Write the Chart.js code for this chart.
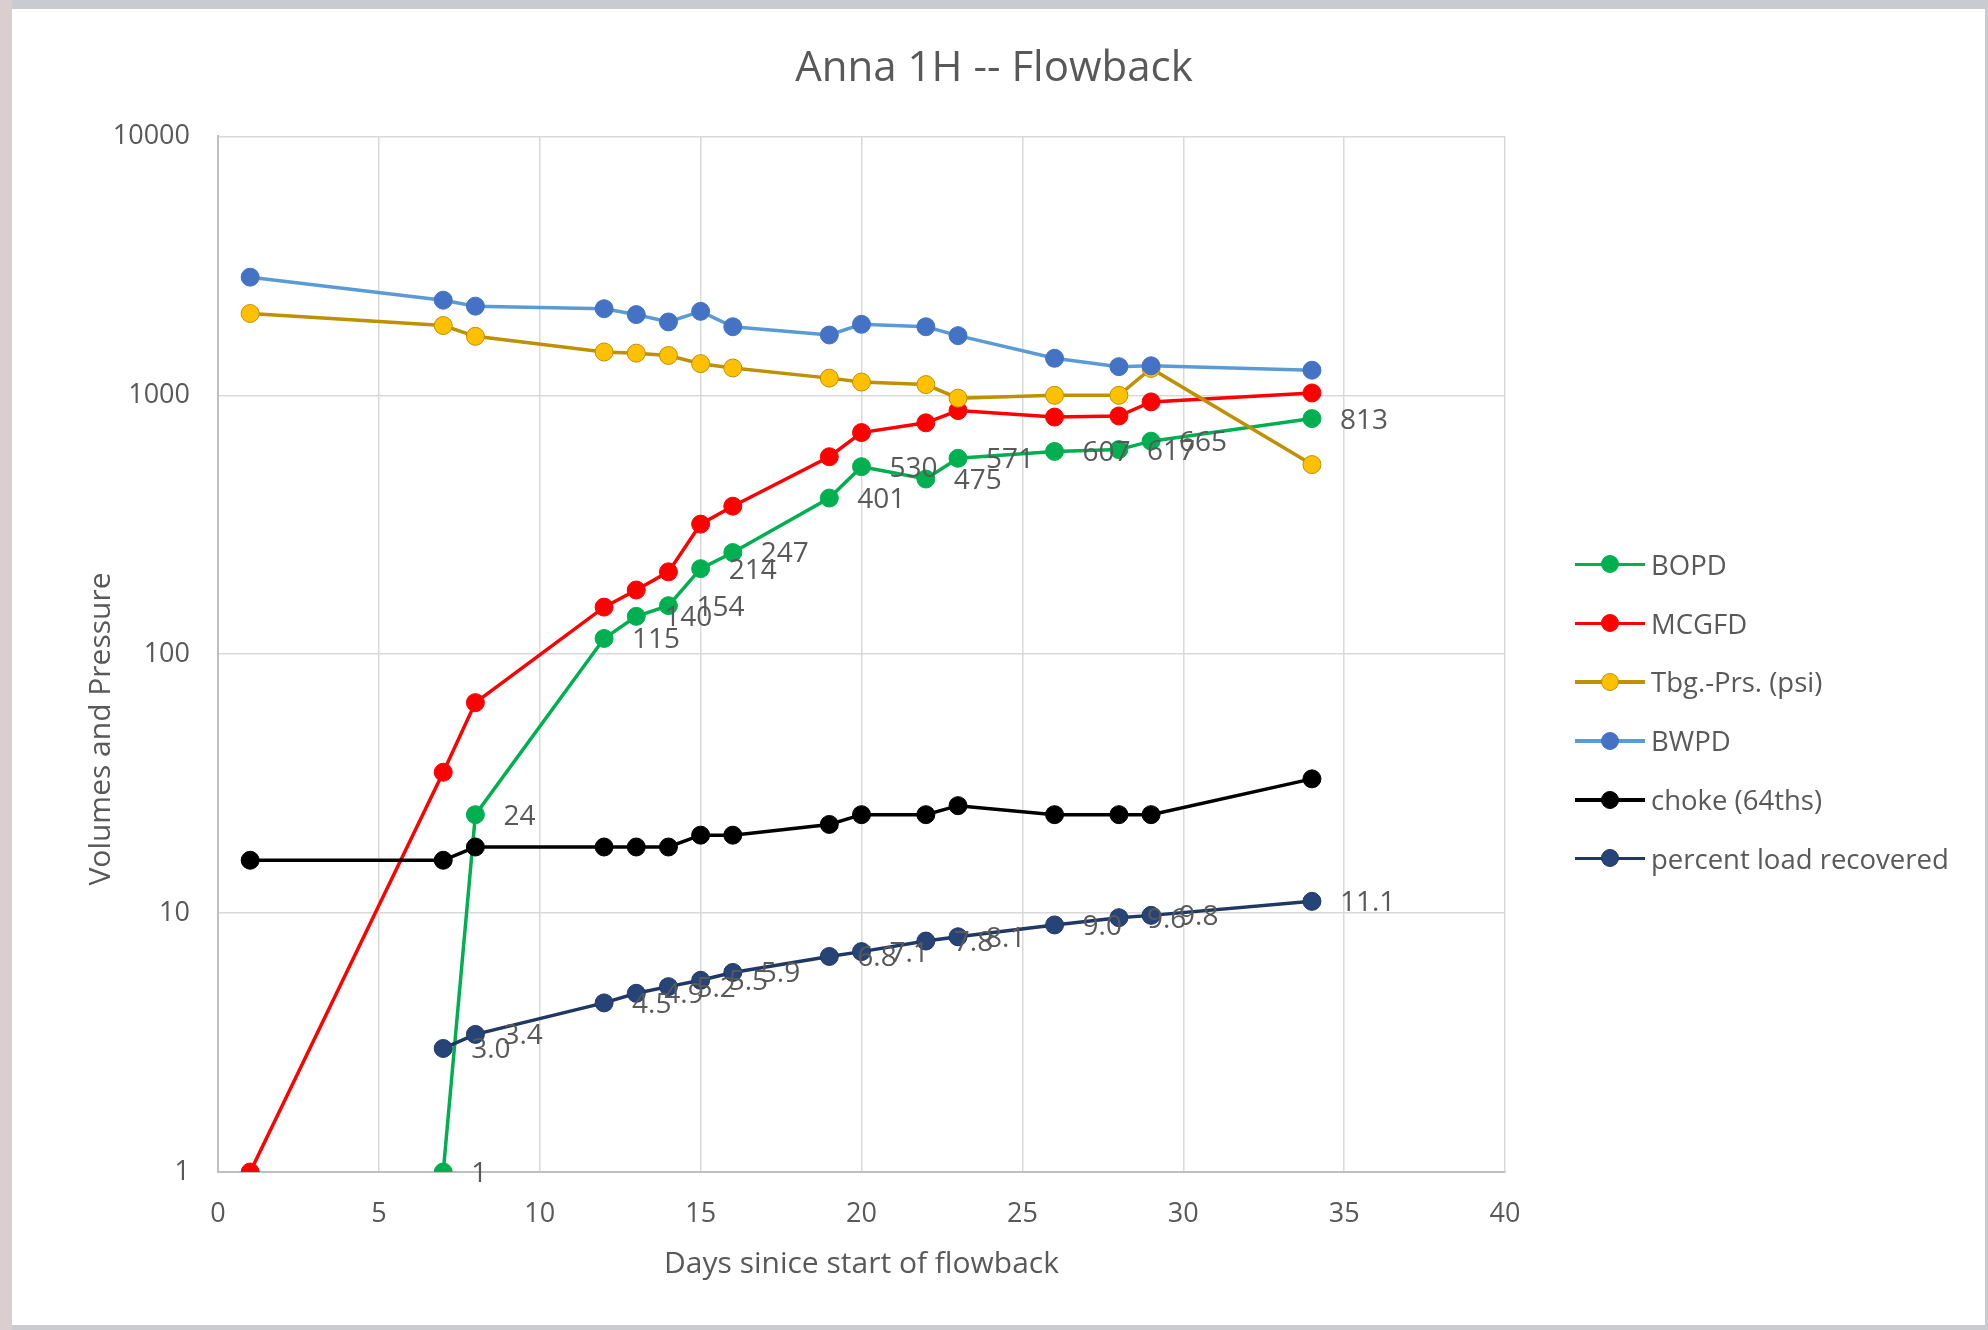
<!DOCTYPE html>
<html>
<head>
<meta charset="utf-8">
<title>Anna 1H -- Flowback</title>
<script src="https://cdn.jsdelivr.net/npm/chart.js@4.4.1/dist/chart.umd.min.js"></script>
<style>
  html, body { margin: 0; padding: 0; }
  body {
    width: 1988px; height: 1330px; overflow: hidden; position: relative;
    background: linear-gradient(to right, #d9cfd0 0, #d9cfd0 12px, #c9cbd0 12px);
    font-family: "Open Sans", sans-serif;
  }
  #panel { position: absolute; left: 12px; top: 9px; width: 1973px; height: 1316px; background: #fff; }
  #wrap { position: absolute; left: 0; top: 0; width: 1988px; height: 1330px; }
  #legend { position: absolute; left: 1575px; top: 535px; margin: 0; padding: 0; list-style: none; }
  #legend li { height: 58.8px; display: flex; align-items: center; font-size: 27.5px; color: #595959; white-space: nowrap; }
  .swatch { position: relative; width: 70px; height: 20px; margin-right: 6px; }
  .swatch .ln { position: absolute; left: 0; right: 0; top: 8.5px; height: 3.5px; }
  .swatch .dot { position: absolute; left: 26px; top: 1px; width: 18px; height: 18px; border-radius: 50%; box-sizing: border-box; border: 1px solid; }
</style>
</head>
<body>
<div id="panel"></div>
<div id="wrap"><canvas id="flowChart"></canvas></div>
<ul id="legend"></ul>
<script>
// days since start of flowback
const days = [1, 7, 8, 12, 13, 14, 15, 16, 19, 20, 22, 23, 26, 28, 29, 34];

// series values (null = no reading that day)
const bopd   = [null, 1, 24, 115, 140, 154, 214, 247, 401, 530, 475, 571, 607, 617, 665, 813];
const mcgfd  = [1, 35, 65, 152, 177, 208, 318, 373, 579, 718, 783, 873, 824, 832, 943, 1021];
const tbgPrs = [2070, 1860, 1690, 1470, 1455, 1425, 1325, 1275, 1165, 1125, 1100, 975, 1000, 1000, 1270, 540];
const bwpd   = [2860, 2330, 2210, 2160, 2050, 1920, 2110, 1840, 1710, 1880, 1840, 1700, 1390, 1290, 1300, 1250];
const choke  = [16, 16, 18, 18, 18, 18, 20, 20, 22, 24, 24, 26, 24, 24, 24, 33];
const pctLoad = [null, 3.0, 3.4, 4.5, 4.9, 5.2, 5.5, 5.9, 6.8, 7.1, 7.8, 8.1, 9.0, 9.6, 9.8, 11.1];

const xTicks = [0, 5, 10, 15, 20, 25, 30, 35, 40];
const yTicks = [1, 10, 100, 1000, 10000];

const seriesNames  = ['BOPD', 'MCGFD', 'Tbg.-Prs. (psi)', 'BWPD', 'choke (64ths)', 'percent load recovered'];
const seriesValues = [bopd, mcgfd, tbgPrs, bwpd, choke, pctLoad];
const lineColors   = ['#00B050', '#FF0000', '#BF9000', '#5B9BD5', '#000000', '#203864'];
const dotColors    = ['#00B050', '#FF0000', '#FFC000', '#4472C4', '#000000', '#264478'];
const dotBorders   = ['#00B050', '#FF0000', '#BF9000', '#4472C4', '#000000', '#203864'];
const labelDigits  = [0, null, null, null, null, 1]; // which series get value labels

const textGray = '#595959';
Chart.defaults.font.family = '"Open Sans", sans-serif';
Chart.defaults.color = textGray;

const datasets = seriesNames.map((name, i) => ({
  label: name,
  data: days.map((d, j) => ({ x: d, y: seriesValues[i][j] })),
  borderColor: lineColors[i],
  backgroundColor: dotColors[i],
  pointBackgroundColor: dotColors[i],
  pointBorderColor: dotBorders[i],
  pointBorderWidth: 1,
  pointRadius: 9,
  pointHoverRadius: 9,
  borderWidth: 3.5,
  tension: 0,
  spanGaps: true,
  order: seriesNames.length - i,
  labelDigits: labelDigits[i]
}));

// value labels to the right of the points (like Excel "Right" labels)
const pointLabels = {
  id: 'pointLabels',
  afterDatasetsDraw(chart) {
    const ctx = chart.ctx;
    ctx.save();
    ctx.font = '28px "Open Sans", sans-serif';
    ctx.fillStyle = textGray;
    ctx.textAlign = 'left';
    ctx.textBaseline = 'middle';
    chart.data.datasets.forEach((ds, i) => {
      if (ds.labelDigits === null || ds.labelDigits === undefined) return;
      chart.getDatasetMeta(i).data.forEach((pt, j) => {
        const v = ds.data[j].y;
        if (v === null) return;
        ctx.fillText(v.toFixed(ds.labelDigits), pt.x + 28, pt.y + 2);
      });
    });
    ctx.restore();
  }
};

// y axis title, sits lower than centre in the original
const yTitle = {
  id: 'yTitle',
  afterDraw(chart) {
    const ctx = chart.ctx;
    ctx.save();
    ctx.font = '30px "Open Sans", sans-serif';
    ctx.fillStyle = textGray;
    ctx.textAlign = 'center';
    ctx.textBaseline = 'middle';
    ctx.translate(chart.chartArea.left - 117, chart.chartArea.bottom - 443);
    ctx.rotate(-Math.PI / 2);
    ctx.fillText('Volumes and Pressure', 0, 0);
    ctx.restore();
  }
};

const flowChart = new Chart(document.getElementById('flowChart'), {
  type: 'line',
  data: { datasets: datasets },
  options: {
    responsive: true,
    maintainAspectRatio: false,
    animation: false,
    events: [],
    layout: { padding: { left: 0, top: 0, right: 0, bottom: 30 } },
    plugins: {
      legend: { display: false },
      tooltip: { enabled: false },
      title: {
        display: true,
        text: 'Anna 1H -- Flowback',
        color: textGray,
        font: { size: 42, weight: 'normal' },
        padding: { top: 44, bottom: 42 }
      }
    },
    scales: {
      x: {
        type: 'linear',
        min: 0,
        max: 40,
        afterBuildTicks: (scale) => { scale.ticks = xTicks.map(v => ({ value: v })); },
        afterFit: (scale) => { scale.height = 128; },
        ticks: { font: { size: 27 }, color: textGray, padding: 26 },
        grid: { color: '#D9D9D9', lineWidth: 1.5, drawTicks: false },
        border: { color: '#BFBFBF', width: 2 },
        title: {
          display: true,
          text: 'Days sinice start of flowback',
          color: textGray,
          font: { size: 30 },
          padding: { top: 0, bottom: 18 }
        }
      },
      y: {
        type: 'logarithmic',
        min: 1,
        max: 10000,
        afterBuildTicks: (scale) => { scale.ticks = yTicks.map(v => ({ value: v })); },
        afterFit: (scale) => { scale.width = 218; },
        ticks: { font: { size: 27 }, color: textGray, padding: 28, callback: (v) => String(v) },
        grid: { color: '#D9D9D9', lineWidth: 1.5, drawTicks: false },
        border: { color: '#BFBFBF', width: 2 }
      },
      // empty right-hand box that keeps room for the legend
      spacer: {
        type: 'linear',
        position: 'right',
        display: true,
        afterFit: (scale) => { scale.width = 483; },
        ticks: { display: false },
        grid: { display: false },
        border: { display: false }
      }
    }
  },
  plugins: [pointLabels, yTitle]
});

// legend: line + marker sample like the original
const legendEl = document.getElementById('legend');
seriesNames.forEach((name, i) => {
  const li = document.createElement('li');
  li.innerHTML = '<span class="swatch"><span class="ln" style="background:' + lineColors[i] + '"></span>' +
    '<span class="dot" style="background:' + dotColors[i] + ';border-color:' + dotBorders[i] + '"></span></span>' +
    '<span>' + name + '</span>';
  legendEl.appendChild(li);
});
</script>
</body>
</html>
